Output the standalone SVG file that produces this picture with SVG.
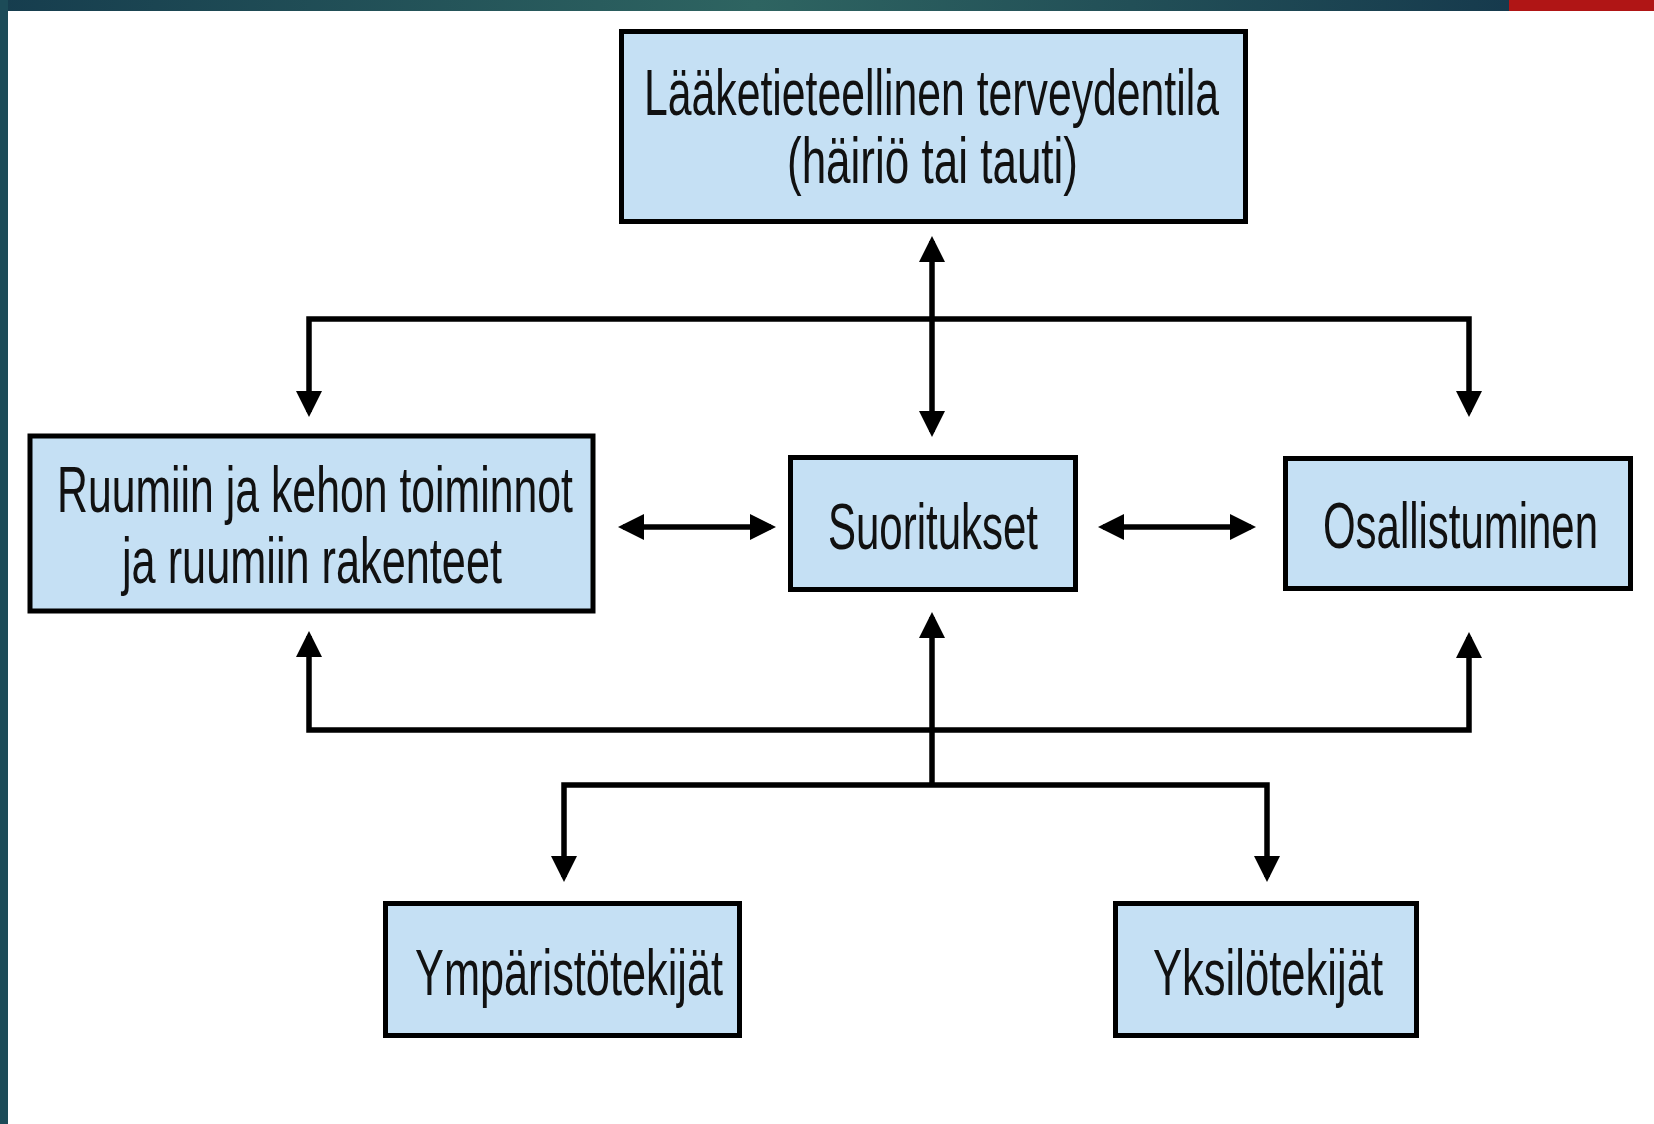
<svg xmlns="http://www.w3.org/2000/svg" width="1654" height="1124" viewBox="0 0 1654 1124">
  <style>
    .box { fill: #c5e0f4; stroke: #000; stroke-width: 5; }
    .lbl { font-family: "Liberation Sans", Arial, sans-serif; font-size: 64px; fill: #111; }
    .conn { fill: none; stroke: #000; stroke-width: 5.5; stroke-linejoin: miter; }
  </style>
  <defs>
    <linearGradient id="topbar" x1="0" y1="0" x2="1" y2="0">
      <stop offset="0" stop-color="#163d4e"/>
      <stop offset="0.5" stop-color="#2e6461"/>
      <stop offset="1" stop-color="#163a4d"/>
    </linearGradient>
    <marker id="ah" markerUnits="userSpaceOnUse" markerWidth="26" markerHeight="26" refX="21" refY="13" orient="auto-start-reverse">
      <path d="M0,0 L26,13 L0,26 Z" fill="#000"/>
    </marker>
  </defs>

  <rect x="0" y="0" width="1654" height="1124" fill="#ffffff"/>
  <rect x="0" y="0" width="1509" height="11" fill="url(#topbar)"/>
  <rect x="1509" y="0" width="145" height="11" fill="#b01515"/>
  <rect x="0" y="0" width="8" height="1124" fill="#1c4b58"/>

  <g id="connectors">
    <path class="conn" d="M932,241 V432" marker-start="url(#ah)" marker-end="url(#ah)"/>
    <path class="conn" d="M309,412 V319 H1469 V412" marker-start="url(#ah)" marker-end="url(#ah)"/>
    <path class="conn" d="M623,527 H771" marker-start="url(#ah)" marker-end="url(#ah)"/>
    <path class="conn" d="M1103,527 H1251" marker-start="url(#ah)" marker-end="url(#ah)"/>
    <path class="conn" d="M309,636 V730 H1469 V637" marker-start="url(#ah)" marker-end="url(#ah)"/>
    <path class="conn" d="M932,617 V785" marker-start="url(#ah)"/>
    <path class="conn" d="M564,877 V785 H1267 V877" marker-start="url(#ah)" marker-end="url(#ah)"/>
  </g>

  <g id="node-terveydentila">
    <rect class="box" x="621.5" y="31.5" width="624" height="190"/>
    <text class="lbl" x="644" y="115" textLength="575" lengthAdjust="spacingAndGlyphs">Lääketieteellinen terveydentila</text>
    <text class="lbl" x="787" y="183" textLength="291" lengthAdjust="spacingAndGlyphs">(häiriö tai tauti)</text>
  </g>

  <g id="node-ruumiin">
    <rect class="box" x="30" y="436" width="563" height="175"/>
    <text class="lbl" x="57" y="512" textLength="516" lengthAdjust="spacingAndGlyphs">Ruumiin ja kehon toiminnot</text>
    <text class="lbl" x="122" y="583" textLength="380" lengthAdjust="spacingAndGlyphs">ja ruumiin rakenteet</text>
  </g>

  <g id="node-suoritukset">
    <rect class="box" x="790.5" y="457.5" width="285" height="132"/>
    <text class="lbl" x="828" y="549" textLength="210" lengthAdjust="spacingAndGlyphs">Suoritukset</text>
  </g>

  <g id="node-osallistuminen">
    <rect class="box" x="1285.5" y="458.5" width="345" height="130"/>
    <text class="lbl" x="1323" y="548" textLength="275" lengthAdjust="spacingAndGlyphs">Osallistuminen</text>
  </g>

  <g id="node-ymparistotekijat">
    <rect class="box" x="385.5" y="903.5" width="354" height="132"/>
    <text class="lbl" x="415" y="995" textLength="308" lengthAdjust="spacingAndGlyphs">Ympäristötekijät</text>
  </g>

  <g id="node-yksilotekijat">
    <rect class="box" x="1115.5" y="903.5" width="301" height="132"/>
    <text class="lbl" x="1153" y="995" textLength="230" lengthAdjust="spacingAndGlyphs">Yksilötekijät</text>
  </g>
</svg>
